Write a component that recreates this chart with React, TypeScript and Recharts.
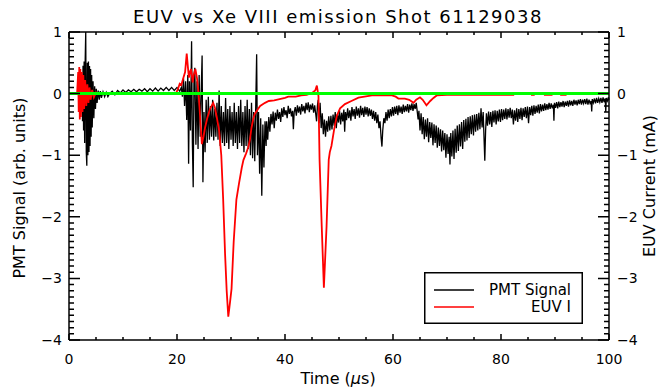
import { LineChart, Line, XAxis, YAxis } from 'recharts';

const FONT = '"DejaVu Sans", sans-serif';

// plot frame in the 659x392 picture
const PLOT = { left: 69, right: 609, top: 32, bottom: 340 };
const X_DOMAIN = [0, 100];
const Y_DOMAIN = [-4, 1];

// axis ticks
const xMajor = [0, 20, 40, 60, 80, 100];
const xTicks = [0, 5, 10, 15, 20, 25, 30, 35, 40, 45, 50, 55, 60, 65, 70, 75, 80, 85, 90, 95, 100];
const yMajor = [-4, -3, -2, -1, 0, 1];
const yTicks = Array.from({ length: 51 }, (_, i) => Math.round((-4 + i * 0.1) * 10) / 10);

// PMT signal as [time (us), signal]
const pmtStart = [
  [0, 0], [1, 0], [2, 0.02], [2.2, -0.1], [2.4, 0.2], [2.5, -0.45], [2.6, 0.45], [2.7, -0.6],
  [2.8, 0.52], [2.9, -0.8], [3.0, 0.55], [3.1, 1.0], [3.2, -0.95], [3.3, -1.17], [3.4, 0.5],
  [3.5, -1.0], [3.6, 0.52], [3.7, -0.95], [3.8, 0.45], [3.9, -0.85], [4.0, 0.4], [4.1, -0.7],
  [4.2, 0.3], [4.3, -0.55], [4.45, 0.2], [4.6, -0.4], [4.75, 0.12], [4.9, -0.25], [5.05, 0.08],
  [5.2, -0.15], [5.4, 0.05], [5.6, -0.1], [5.8, 0.04], [6.0, -0.07], [6.3, 0.03], [6.6, -0.05],
  [6.9, 0.02], [7.2, -0.05],
];

const pmtQuiet = [
  [7.5, 0.0], [8, 0.04], [8.5, -0.02], [9, 0.05], [9.5, 0.01], [10, 0.06], [10.5, 0.02], [11, 0.06],
  [11.5, 0.03], [12, 0.07], [12.5, 0.03], [13, 0.07], [13.5, 0.04], [14, 0.08], [14.5, 0.03],
  [15, 0.08], [15.5, 0.04], [16, 0.09], [16.5, 0.04], [17, 0.09], [17.5, 0.05], [18, 0.1],
  [18.5, 0.05], [19, 0.1], [19.5, 0.05], [20, 0.1], [20.5, 0.04],
];

const pmtBurst = [
  [20.8, 0.1], [21.0, -0.05], [21.2, 0.25], [21.4, -0.2], [21.6, 0.2], [21.8, -0.43], [22.0, 0.3],
  [22.15, -1.14], [22.3, 0.2], [22.5, -0.6], [22.7, 0.85], [22.85, -0.8], [23.0, -1.52], [23.15, 0.3],
  [23.3, 0.42], [23.5, -0.83], [23.7, 0.2], [23.9, -0.9], [24.1, 0.3], [24.3, -0.7], [24.5, 0.1],
  [24.65, 0.62], [24.8, -1.44], [25.0, -0.3], [25.2, -0.95], [25.4, -0.1], [25.6, -0.8], [25.8, -0.05],
  [26.0, -0.75], [26.2, -0.2], [26.4, -0.7], [26.6, -0.1], [26.8, -0.76], [27.0, -0.25], [27.2, -0.7],
  [27.4, -0.15], [27.6, -0.75], [27.8, 0.05], [28.0, -0.85], [28.2, -0.2], [28.4, -0.8], [28.6, -0.3],
  [28.8, -0.85], [29.0, -0.07], [29.2, -0.8], [29.4, -0.25], [29.6, -0.9], [29.8, -0.2], [30.0, -0.75],
  [30.2, -0.3], [30.4, -0.85], [30.6, -0.15], [30.8, -0.8], [31.0, -0.3], [31.2, -0.9], [31.4, -0.2],
  [31.6, -0.8], [31.8, -0.1], [32.0, -0.85], [32.2, -0.3], [32.4, -0.95], [32.6, -0.2], [32.8, -0.85],
  [33.0, -0.1], [33.2, -0.9], [33.4, -0.25], [33.6, -1.0], [33.8, -0.15], [34.0, -1.05], [34.2, -0.3],
  [34.4, -1.1], [34.6, -0.1], [34.75, 0.64], [34.9, -1.0], [35.1, -0.3], [35.3, -1.3], [35.5, -0.4],
  [35.7, -1.66], [35.9, -0.5], [36.1, -1.2], [36.3, -0.45], [36.5, -0.85],
];

const pmtRecover = [
  [36.6, -0.45], [36.8, -0.75], [37.0, -0.38], [37.2, -0.62], [37.4, -0.33], [37.6, -0.5], [37.8, -0.29],
  [38.0, -0.56], [38.2, -0.31], [38.4, -0.44], [38.6, -0.26], [38.8, -0.41], [39.0, -0.3], [39.2, -0.46],
  [39.4, -0.24], [39.6, -0.38], [39.8, -0.22], [40.0, -0.35], [40.2, -0.27], [40.4, -0.4], [40.6, -0.2],
  [40.8, -0.33], [41.0, -0.24], [41.2, -0.37], [41.4, -0.28], [41.55, -0.58], [41.7, -0.3], [41.9, -0.22],
  [42.1, -0.36], [42.3, -0.19], [42.5, -0.31], [42.7, -0.21], [42.9, -0.34], [43.1, -0.17], [43.3, -0.29],
  [43.5, -0.2], [43.7, -0.32], [43.9, -0.15], [44.1, -0.27], [44.3, -0.14], [44.5, -0.3], [44.7, -0.18],
  [44.9, -0.26], [45.1, -0.16], [45.3, -0.31], [45.5, -0.19], [45.7, -0.34], [45.85, -0.45], [46.0, -0.2],
  [46.15, -0.1], [46.3, -0.48], [46.5, -0.15], [46.7, -0.56], [46.9, -0.32], [47.1, -0.66], [47.3, -0.42],
  [47.5, -0.7], [47.7, -0.44], [47.9, -0.62], [48.1, -0.37], [48.3, -0.6], [48.5, -0.36],
];

const pmtMid = [
  [48.7, -0.58], [48.9, -0.34], [49.1, -0.52], [49.3, -0.3], [49.5, -0.56], [49.7, -0.33], [49.9, -0.47],
  [50.1, -0.28], [50.3, -0.5], [50.5, -0.31], [50.7, -0.45], [50.9, -0.26], [51.05, -0.62], [51.2, -0.3],
  [51.4, -0.43], [51.6, -0.24], [51.8, -0.4], [52.0, -0.27], [52.2, -0.44], [52.4, -0.22], [52.6, -0.37],
  [52.8, -0.25], [53.0, -0.41], [53.2, -0.21], [53.4, -0.36], [53.6, -0.24], [53.8, -0.39], [54.0, -0.2],
  [54.2, -0.35], [54.4, -0.23], [54.6, -0.38], [54.8, -0.21], [55.0, -0.34], [55.2, -0.22], [55.4, -0.37],
  [55.6, -0.24], [55.8, -0.36], [56.0, -0.26], [56.2, -0.41], [56.4, -0.28], [56.6, -0.44], [56.8, -0.3],
  [57.0, -0.48], [57.2, -0.34], [57.4, -0.56], [57.6, -0.45], [57.8, -0.72], [57.95, -0.86], [58.1, -0.6],
  [58.3, -0.4], [58.5, -0.48], [58.7, -0.3], [58.9, -0.44], [59.1, -0.26], [59.3, -0.4], [59.5, -0.25],
  [59.7, -0.37], [59.9, -0.22], [60.1, -0.36], [60.3, -0.21], [60.5, -0.33], [60.7, -0.2], [60.9, -0.35],
  [61.1, -0.19], [61.3, -0.31], [61.5, -0.21], [61.7, -0.33], [61.9, -0.18], [62.1, -0.3], [62.3, -0.2],
  [62.5, -0.29], [62.7, -0.17], [62.9, -0.31], [63.1, -0.18], [63.3, -0.27], [63.5, -0.16], [63.7, -0.28],
  [63.9, -0.17], [64.1, -0.25], [64.3, -0.15], [64.5, -0.3], [64.65, -0.42], [64.8, -0.28], [65.0, -0.6],
];

const pmtDip = [
  [65.2, -0.32], [65.4, -0.66], [65.6, -0.38], [65.8, -0.74], [66.0, -0.42], [66.2, -0.7], [66.4, -0.4],
  [66.6, -0.79], [66.8, -0.46], [67.0, -0.72], [67.2, -0.47], [67.4, -0.84], [67.6, -0.5], [67.8, -0.8],
  [68.0, -0.52], [68.2, -0.88], [68.4, -0.55], [68.6, -0.85], [68.8, -0.58], [69.0, -0.94], [69.2, -0.6],
  [69.4, -0.92], [69.6, -0.64], [69.8, -1.04], [70.0, -0.66], [70.2, -0.98], [70.4, -0.7], [70.55, -1.15],
  [70.7, -0.64], [70.9, -1.02], [71.1, -0.6], [71.3, -1.06], [71.5, -0.57], [71.7, -0.96], [71.9, -0.52],
  [72.1, -0.93], [72.3, -0.5], [72.5, -0.86], [72.7, -0.46], [72.9, -0.9], [73.1, -0.43], [73.3, -0.78],
  [73.5, -0.41], [73.7, -0.76], [73.9, -0.38], [74.1, -0.72], [74.3, -0.37], [74.5, -0.66], [74.7, -0.35],
  [74.9, -0.68], [75.1, -0.34], [75.3, -0.62], [75.5, -0.33], [75.7, -0.6], [75.9, -0.31], [76.1, -0.58],
  [76.3, -0.24], [76.5, -0.55], [76.7, -0.3], [76.85, -0.7], [77.0, -1.09], [77.15, -0.6], [77.3, -0.32],
  [77.5, -0.52], [77.7, -0.29], [77.9, -0.5], [78.1, -0.3], [78.3, -0.54], [78.5, -0.28], [78.7, -0.47],
  [78.9, -0.27], [79.1, -0.5], [79.3, -0.28], [79.5, -0.45], [79.7, -0.26], [79.9, -0.46], [80.1, -0.25],
  [80.3, -0.43], [80.5, -0.26], [80.7, -0.41], [80.9, -0.24], [81.1, -0.42], [81.3, -0.25], [81.5, -0.39],
  [81.7, -0.23], [81.9, -0.4],
];

const pmtTail = [
  [82.1, -0.26], [82.3, -0.5], [82.5, -0.27], [82.7, -0.44], [82.9, -0.24], [83.1, -0.46], [83.3, -0.25],
  [83.5, -0.41], [83.7, -0.23], [83.9, -0.43], [84.1, -0.24], [84.3, -0.38], [84.5, -0.22], [84.7, -0.4],
  [84.9, -0.21], [85.1, -0.48], [85.3, -0.22], [85.5, -0.35], [85.7, -0.2], [85.9, -0.36], [86.1, -0.19],
  [86.3, -0.33], [86.5, -0.2], [86.7, -0.31], [86.9, -0.18], [87.1, -0.32], [87.3, -0.17], [87.5, -0.29],
  [87.7, -0.18], [87.9, -0.28], [88.1, -0.16], [88.3, -0.27], [88.5, -0.17], [88.7, -0.26], [88.9, -0.15],
  [89.1, -0.25], [89.3, -0.16], [89.5, -0.24], [89.7, -0.18], [89.8, -0.44], [89.9, -0.15], [90.1, -0.23],
  [90.3, -0.14], [90.5, -0.24], [90.7, -0.13], [90.9, -0.22], [91.1, -0.14], [91.3, -0.21], [91.5, -0.12],
  [91.7, -0.22], [91.9, -0.13], [92.1, -0.2], [92.3, -0.12], [92.5, -0.21], [92.7, -0.11], [92.9, -0.19],
  [93.1, -0.12], [93.3, -0.2], [93.5, -0.1], [93.7, -0.18], [93.9, -0.11], [94.1, -0.19], [94.3, -0.1],
  [94.5, -0.17], [94.7, -0.09], [94.9, -0.18], [95.1, -0.1], [95.3, -0.16], [95.5, -0.09], [95.7, -0.17],
  [95.9, -0.08], [96.1, -0.18], [96.3, -0.1], [96.5, -0.16], [96.7, -0.12], [96.8, -0.29], [96.9, -0.09],
  [97.1, -0.15], [97.3, -0.08], [97.5, -0.16], [97.7, -0.07], [97.9, -0.15], [98.1, -0.08], [98.3, -0.14],
  [98.5, -0.07], [98.7, -0.15], [98.9, -0.06], [99.1, -0.14], [99.3, -0.08], [99.4, -0.3], [99.5, -0.07],
  [99.7, -0.12], [99.9, -0.06], [100, -0.1],
];

// EUV current, [time (us), mA]
const euvFirst = [
  [0, 0], [1.5, 0], [1.7, 0.35], [1.8, -0.3], [1.9, 0.43], [2.0, -0.42], [2.1, 0.4], [2.2, -0.38],
  [2.35, 0.35], [2.5, -0.3], [2.65, 0.3], [2.8, -0.25], [3.0, 0.22], [3.2, -0.2], [3.4, 0.15],
  [3.6, -0.15], [3.8, 0.1], [4.0, -0.1], [4.3, 0.06], [4.6, -0.06], [5.0, 0.02], [5.5, 0], [19.8, 0],
];

const euvSecond = [
  [20.2, 0.08], [20.5, 0.16], [20.8, 0.14], [21.2, 0.26], [21.5, 0.35], [21.8, 0.65], [22.0, 0.45],
  [22.2, 0.26], [22.4, 0.35], [22.6, 0.4], [22.9, 0.18], [23.1, 0.3], [23.4, 0.4], [23.7, 0.25],
  [24.0, 0.0], [24.3, -0.4], [24.6, -0.82], [24.9, -0.7], [25.2, -0.55], [25.6, -0.4], [26.1, -0.25],
  [26.7, -0.15], [27.0, -0.22], [27.3, -0.35], [27.8, -0.6], [28.2, -1.0], [28.55, -1.72], [28.9, -2.6],
  [29.2, -3.2], [29.5, -3.62], [29.8, -3.4], [30.1, -3.17], [30.5, -2.4], [31.0, -1.72], [31.5, -1.45],
  [32.0, -1.2], [32.3, -1.08], [32.8, -0.97], [33.2, -0.87], [33.5, -0.75], [33.8, -0.55], [34.1, -0.42],
  [34.4, -0.33], [35.0, -0.25], [35.4, -0.2], [36.3, -0.15], [37.0, -0.12], [38.0, -0.11], [39.0, -0.09],
  [40.0, -0.07], [40.6, -0.05], [42.0, -0.05], [43.0, -0.03], [44.0, -0.02], [45.0, 0.01], [45.6, 0.05],
  [45.9, 0.13],
];

const euvThird = [
  [46.2, -0.04], [46.4, -1.07], [46.8, -2.15], [47.2, -3.15], [47.7, -2.15], [48.1, -1.07], [48.3, -0.95],
  [48.6, -0.85], [49.1, -0.58], [49.6, -0.36], [50.2, -0.24], [51.1, -0.17], [52.3, -0.12], [53.6, -0.065],
  [56.1, -0.03], [59.8, -0.03], [60.5, -0.05], [61.0, -0.08], [62.2, -0.08], [63.0, -0.1], [63.8, -0.15],
  [64.3, -0.1], [65.0, -0.06], [65.5, -0.1], [66.2, -0.19], [66.9, -0.12], [67.5, -0.07], [68.1, -0.03],
  [70, -0.02], [82.3, -0.02], [82.4, 0], [85.6, 0], [85.7, -0.02], [86.1, -0.02], [86.2, 0], [88, 0],
  [88.1, -0.02], [89.4, -0.02], [89.5, 0], [91, 0], [91.1, -0.02], [92, -0.02], [92.1, 0], [100, 0],
];

// green zero reference
const zeroLine = [[0, 0], [100, 0]];

const toPoints = (rows: number[][]) => rows.map(([t, v]) => ({ t, v }));
const pmtData = toPoints([...pmtStart, ...pmtQuiet, ...pmtBurst, ...pmtRecover, ...pmtMid, ...pmtDip, ...pmtTail]);
const euvData = toPoints([...euvFirst, ...euvSecond, ...euvThird]);
const zeroData = toPoints(zeroLine);

const isMajorX = (v: number) => xMajor.includes(v);
const isMajorY = (v: number) => yMajor.some((m) => Math.abs(v - m) < 1e-6);
const fmtY = (v: number) => (v < 0 ? '\u2212' + Math.abs(v) : String(v));

// tick labels come from the axes
function BottomTick({ x, y, payload }: any) {
  if (!isMajorX(payload.value)) return <g />;
  return (
    <text x={x} y={y + 24} textAnchor="middle" fontSize={14} fontFamily={FONT} fill="#000">
      {payload.value}
    </text>
  );
}

function LeftTick({ x, y, payload }: any) {
  if (!isMajorY(payload.value)) return <g />;
  return (
    <text x={x - 7} y={y + 5} textAnchor="end" fontSize={14} fontFamily={FONT} fill="#000">
      {fmtY(Math.round(payload.value))}
    </text>
  );
}

function RightTick({ x, y, payload }: any) {
  if (!isMajorY(payload.value)) return <g />;
  return (
    <text x={x + 8} y={y + 5} textAnchor="start" fontSize={14} fontFamily={FONT} fill="#000">
      {fmtY(Math.round(payload.value))}
    </text>
  );
}

const axisLine = { stroke: '#000', strokeWidth: 1.5 };

const W = PLOT.right - PLOT.left;
const H = PLOT.bottom - PLOT.top;
const xPx = (t: number) => PLOT.left + ((t - X_DOMAIN[0]) / (X_DOMAIN[1] - X_DOMAIN[0])) * W;
const yPx = (v: number) => PLOT.bottom - ((v - Y_DOMAIN[0]) / (Y_DOMAIN[1] - Y_DOMAIN[0])) * H;

// inward IDL-style tick marks as single stroked paths
const xTickPath = xTicks
  .map((t) => {
    const len = isMajorX(t) ? 6 : 3;
    const px = xPx(t).toFixed(2);
    return `M${px} ${PLOT.bottom}v${-len}M${px} ${PLOT.top}v${len}`;
  })
  .join('');
const yTickPath = yTicks
  .map((v) => {
    const len = isMajorY(v) ? 11 : 5;
    const py = yPx(v).toFixed(2);
    return `M${PLOT.left} ${py}h${len}M${PLOT.right} ${py}h${-len}`;
  })
  .join('');

// title, axis titles, ticks and the legend box, drawn over the chart
function Overlay() {
  return (
    <svg width={659} height={392} style={{ position: 'absolute', left: 0, top: 0, pointerEvents: 'none' }}>
      <path d={xTickPath} stroke="#000" strokeWidth={1.5} fill="none" />
      <path d={yTickPath} stroke="#000" strokeWidth={1.5} fill="none" />
      <text x={338} y={23} textAnchor="middle" fontSize={18} fontFamily={FONT} letterSpacing={1.5} fill="#000">
        EUV vs Xe VIII emission Shot 61129038
      </text>
      <text x={338} y={384} textAnchor="middle" fontSize={16} fontFamily={FONT} fill="#000">
        <tspan>Time (</tspan>
        <tspan fontStyle="italic">μ</tspan>
        <tspan>s)</tspan>
      </text>
      <text transform="translate(25,188) rotate(-90)" textAnchor="middle" fontSize={16} fontFamily={FONT} fill="#000">
        PMT Signal (arb. units)
      </text>
      <text transform="translate(655,186) rotate(-90)" textAnchor="middle" fontSize={16} fontFamily={FONT} fill="#000">
        EUV Current (mA)
      </text>
      <g transform="translate(424,272)">
        <rect x={0.75} y={0.75} width={157.5} height={50.5} fill="#fff" stroke="#000" strokeWidth={1.5} />
        <line x1={10} x2={50} y1={18} y2={18} stroke="#000" strokeWidth={1.5} />
        <line x1={10} x2={50} y1={35} y2={35} stroke="#ff0000" strokeWidth={1.5} />
        <text x={147} y={23} textAnchor="end" fontSize={15} fontFamily={FONT} fill="#000">PMT Signal</text>
        <text x={147} y={40} textAnchor="end" fontSize={15} fontFamily={FONT} fill="#000">EUV I</text>
      </g>
    </svg>
  );
}

export default function App() {
  return (
    <div style={{ position: 'absolute', left: 0, top: 0, width: 659, height: 392, background: '#fff' }}>
      <LineChart
        width={659}
        height={392}
        margin={{ top: PLOT.top - 10, right: 659 - PLOT.right - 50, bottom: 392 - PLOT.bottom - 30, left: PLOT.left - 60 }}
      >
        <XAxis
          xAxisId="b"
          type="number"
          dataKey="t"
          domain={X_DOMAIN}
          ticks={xTicks}
          interval={0}
          height={30}
          tickSize={0}
          tickMargin={0}
          tickLine={false}
          axisLine={axisLine}
          tick={<BottomTick />}
        />
        <XAxis
          xAxisId="t"
          orientation="top"
          type="number"
          dataKey="t"
          domain={X_DOMAIN}
          ticks={xTicks}
          interval={0}
          height={10}
          tickLine={false}
          axisLine={axisLine}
          tick={false}
        />
        <YAxis
          yAxisId="l"
          type="number"
          domain={Y_DOMAIN}
          ticks={yTicks}
          interval={0}
          width={60}
          tickSize={0}
          tickMargin={0}
          tickLine={false}
          axisLine={axisLine}
          tick={<LeftTick />}
        />
        <YAxis
          yAxisId="r"
          orientation="right"
          type="number"
          domain={Y_DOMAIN}
          ticks={yTicks}
          interval={0}
          width={50}
          tickSize={0}
          tickMargin={0}
          tickLine={false}
          axisLine={axisLine}
          tick={<RightTick />}
        />
        <Line
          xAxisId="b"
          yAxisId="l"
          data={pmtData}
          dataKey="v"
          name="PMT Signal"
          type="linear"
          stroke="#000"
          strokeWidth={1.3}
          dot={false}
          activeDot={false}
          isAnimationActive={false}
        />
        <Line
          xAxisId="b"
          yAxisId="r"
          data={euvData}
          dataKey="v"
          name="EUV I"
          type="linear"
          stroke="#ff0000"
          strokeWidth={1.8}
          dot={false}
          activeDot={false}
          isAnimationActive={false}
        />
        <Line
          xAxisId="b"
          yAxisId="l"
          data={zeroData}
          dataKey="v"
          type="linear"
          stroke="#00ff00"
          strokeWidth={3}
          dot={false}
          activeDot={false}
          isAnimationActive={false}
        />
      </LineChart>
      <Overlay />
    </div>
  );
}
